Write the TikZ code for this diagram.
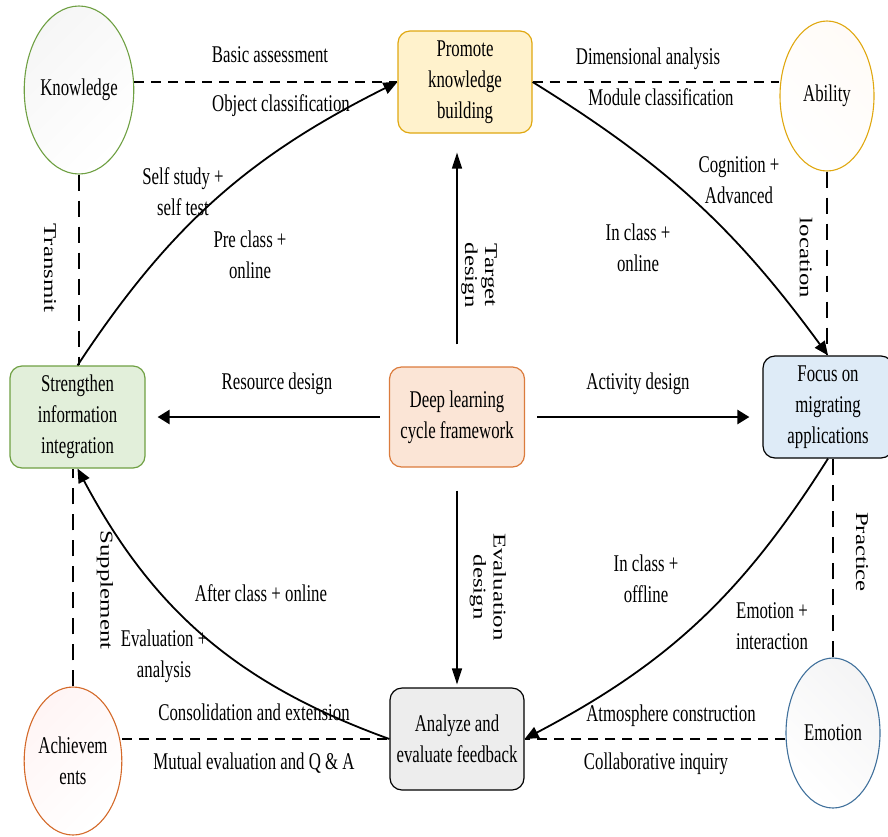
\documentclass[tikz,border=0pt]{standalone}
\usepackage{fontspec}
\setmainfont{Liberation Serif}
\newfontfamily\hfnt[FakeStretch=0.70]{Liberation Serif}
\newfontfamily\vfnt[FakeStretch=1.38]{Liberation Serif}
\usetikzlibrary{shapes.geometric,arrows.meta}
\definecolor{gbord}{HTML}{6FA043}
\definecolor{gfill}{HTML}{E2EFDA}
\definecolor{ybord}{HTML}{E0A811}
\definecolor{yfill}{HTML}{FFF2CC}
\definecolor{obord}{HTML}{DB7B3C}
\definecolor{ofill}{HTML}{FBE5D6}
\definecolor{bfill}{HTML}{DEEBF7}
\definecolor{grfill}{HTML}{EDEDED}
\definecolor{achbord}{HTML}{D46A2A}
\definecolor{emobord}{HTML}{41719C}
\begin{document}
\begin{tikzpicture}[x=1pt,y=-1pt,
  htext/.style={font=\hfnt\fontsize{24}{31}\selectfont, align=center, inner sep=0pt},
  vtext/.style={font=\vfnt\fontsize{18}{20}\selectfont, align=center, inner sep=0pt, rotate=-90},
  box/.style={draw, rounded corners=12pt, minimum width=134pt, minimum height=102pt, line width=1.2pt, align=center, inner sep=0pt, font=\hfnt\fontsize{24}{31}\selectfont},
  oval/.style={ellipse, draw, line width=1.1pt, inner sep=0pt, align=center, font=\hfnt\fontsize{24}{31}\selectfont},
  hdash/.style={line width=2pt, dash pattern=on 10pt off 7pt},
  vdash/.style={line width=1.3pt, dash pattern=on 16pt off 10pt},
  flow/.style={line width=1.8pt, -{Triangle[length=14pt,width=12pt]}},
  harrow/.style={line width=2.5pt, -{Triangle[length=12pt,width=14pt]}},
  varrow/.style={line width=1.4pt, -{Triangle[length=16pt,width=10pt]}},
]
\useasboundingbox (0,0) rectangle (888,836);

% ellipses
\node[oval, draw=gbord, minimum width=108pt, minimum height=168pt, top color=gray!7, bottom color=white, shading angle=45] (know) at (79,90) {Knowledge};
\node[oval, draw=ybord, minimum width=94pt, minimum height=150pt, top color=orange!3, bottom color=white, shading angle=-45] (abil) at (827,96) {Ability};
\node[oval, draw=achbord, minimum width=96pt, minimum height=148pt, top color=red!4, bottom color=white, shading angle=45] (ach) at (73,761) {Achievem\\ents};
\node[oval, draw=emobord, minimum width=94pt, minimum height=150pt, top color=blue!4!gray!8, bottom color=white, shading angle=-45] (emo) at (833,733) {Emotion};

% boxes
\node[box, draw=ybord, fill=yfill] (prom) at (465,82) {Promote\\knowledge\\building};
\node[box, draw=gbord, fill=gfill, minimum width=135pt] (str) at (77.5,417) {Strengthen\\information\\integration};
\node[box, draw=obord, fill=ofill, minimum width=135pt, minimum height=100pt] (deep) at (457,417) {Deep learning\\cycle framework};
\node[box, draw=black, fill=bfill, minimum width=130pt] (foc) at (828,407) {Focus on\\migrating\\applications};
\node[box, draw=black, fill=grfill] (ana) at (457,739) {Analyze and\\evaluate feedback};

% dashed links
\draw[hdash] (know.east |- prom.west) -- (prom.west);
\draw[hdash] (prom.east) -- (prom.east -| abil.west);
\draw[vdash] (abil.south) -- (abil.south |- foc.north);
\draw[vdash] (know.south) -- (know.south |- str.north);
\draw[vdash] (ach.north) -- (ach.north |- str.south);
\draw[vdash] (emo.north) -- (emo.north |- foc.south);
\draw[hdash] (ach.east |- ana.west) -- (ana.west);
\draw[hdash] (emo.west |- ana.east) -- (ana.east);

% cycle curves
\draw[flow] (str.north) to[bend left=15] (prom.west);
\draw[flow] (prom.east) to[bend left=11] (foc.north);
\draw[flow] (foc.south) to[bend left=15] (ana.east);
\draw[flow] (ana.west) to[bend left=21] (str.south);

% straight arrows from centre
\draw[varrow, shorten <=22pt, shorten >=19pt] (deep.north) -- (deep.north |- prom.south);
\draw[varrow, shorten <=23pt, shorten >=3pt] (deep.south) -- (ana.north);
\draw[harrow, shorten <=9pt, shorten >=12pt] (deep.west) -- (deep.west -| str.east);
\draw[harrow, shorten <=12pt, shorten >=13pt] (deep.east) -- (deep.east -| foc.west);

% labels
\node[htext] (l1) at (270,55) {Basic assessment};
\node[htext] (l2) at (281,106) {Object classification};
\node[htext] (l3) at (648,59) {Dimensional analysis};
\node[htext] (l4) at (661,97) {Module classification};
\node[htext] (l5) at (183,192) {Self study +\\self test};
\node[htext] (l6) at (250,255) {Pre class +\\online};
\node[htext] (l7) at (739,180) {Cognition +\\Advanced};
\node[htext] (l8) at (638,248) {In class +\\online};
\node[htext] (l9) at (277,384) {Resource design};
\node[htext] (l10) at (638,384) {Activity design};
\node[htext] (l11) at (261,593) {After class + online};
\node[htext] (l12) at (164,656) {Evaluation +\\analysis};
\node[htext] (l13) at (254,712) {Consolidation and extension};
\node[htext] (l14) at (254,763) {Mutual evaluation and Q \& A};
\node[htext] (l15) at (646,579) {In class +\\offline};
\node[htext] (l16) at (772,626) {Emotion +\\interaction};
\node[htext] (l17) at (671,716) {Atmosphere construction};
\node[htext] (l18) at (656,764) {Collaborative inquiry};

\node[vtext] (v1) at (50,268) {Transmit};
\node[vtext] (v2) at (479,275) {Target\\design};
\node[vtext] (v3) at (806,258) {location};
\node[vtext] (v4) at (105,590) {Supplement};
\node[vtext] (v5) at (488,587) {Evaluation\\design};
\node[vtext] (v6) at (862,552) {Practice};
\end{tikzpicture}
\end{document}
